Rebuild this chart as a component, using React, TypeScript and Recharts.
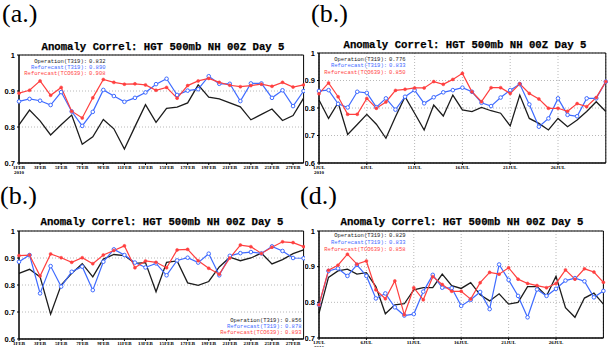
import { LineChart, Line, XAxis, YAxis, CartesianGrid, ReferenceArea } from 'recharts';

const febDates = ['1FEB', '2FEB', '3FEB', '4FEB', '5FEB', '6FEB', '7FEB', '8FEB', '9FEB', '10FEB', '11FEB', '12FEB', '13FEB', '14FEB',
  '15FEB', '16FEB', '17FEB', '18FEB', '19FEB', '20FEB', '21FEB', '22FEB', '23FEB', '24FEB', '25FEB', '26FEB', '27FEB', '28FEB'];
const julDates = ['1JUL', '2JUL', '3JUL', '4JUL', '5JUL', '6JUL', '7JUL', '8JUL', '9JUL', '10JUL', '11JUL', '12JUL', '13JUL', '14JUL',
  '15JUL', '16JUL', '17JUL', '18JUL', '19JUL', '20JUL', '21JUL', '22JUL', '23JUL', '24JUL', '25JUL', '26JUL', '27JUL', '28JUL',
  '29JUL', '30JUL', '31JUL'];

const febTicks = ['1FEB', '3FEB', '5FEB', '7FEB', '9FEB', '11FEB', '13FEB', '15FEB', '17FEB', '19FEB', '21FEB', '23FEB', '25FEB', '27FEB'];
const julTicks = ['1JUL', '6JUL', '11JUL', '16JUL', '21JUL', '26JUL'];
const yTicksShort = [0.7, 0.8, 0.9, 1];
const yTicksLong = [0.6, 0.7, 0.8, 0.9, 1];

// (a.) Feb, top left
const aOp = [0.806, 0.847, 0.817, 0.778, 0.806, 0.833, 0.752, 0.773, 0.821, 0.795, 0.739, 0.801, 0.862, 0.813,
  0.852, 0.855, 0.867, 0.917, 0.883, 0.878, 0.867, 0.856, 0.820, 0.835, 0.850, 0.818, 0.832, 0.880];
const aRt = [0.871, 0.878, 0.873, 0.861, 0.897, 0.843, 0.803, 0.842, 0.903, 0.886, 0.870, 0.881, 0.896, 0.919,
  0.934, 0.889, 0.901, 0.905, 0.941, 0.920, 0.920, 0.872, 0.921, 0.921, 0.881, 0.902, 0.858, 0.900];
const aRc = [0.894, 0.902, 0.928, 0.888, 0.910, 0.844, 0.825, 0.881, 0.932, 0.924, 0.919, 0.920, 0.917, 0.902,
  0.910, 0.880, 0.915, 0.928, 0.935, 0.924, 0.916, 0.912, 0.915, 0.919, 0.913, 0.924, 0.911, 0.917];

// (b.) Jul, top right
const bOp = [0.829, 0.762, 0.819, 0.704, 0.740, 0.777, 0.741, 0.690, 0.768, 0.841, 0.781, 0.720, 0.811, 0.771, 0.847,
  0.793, 0.787, 0.802, 0.790, 0.781, 0.735, 0.847, 0.762, 0.744, 0.720, 0.762, 0.732, 0.756, 0.787, 0.823, 0.787];
const bRt = [0.862, 0.865, 0.815, 0.802, 0.859, 0.855, 0.803, 0.835, 0.794, 0.841, 0.865, 0.817, 0.839, 0.857, 0.865,
  0.874, 0.859, 0.819, 0.807, 0.838, 0.865, 0.887, 0.813, 0.732, 0.762, 0.835, 0.775, 0.770, 0.835, 0.835, 0.896];
const bRc = [0.852, 0.891, 0.841, 0.777, 0.777, 0.835, 0.799, 0.822, 0.864, 0.868, 0.873, 0.873, 0.896, 0.886, 0.904,
  0.926, 0.859, 0.823, 0.874, 0.874, 0.853, 0.888, 0.853, 0.833, 0.799, 0.799, 0.788, 0.816, 0.805, 0.838, 0.896];

// (b.) Feb, bottom left
const cOp = [0.843, 0.858, 0.830, 0.692, 0.800, 0.843, 0.879, 0.830, 0.896, 0.913, 0.909, 0.880, 0.883, 0.775,
  0.884, 0.889, 0.808, 0.799, 0.813, 0.867, 0.903, 0.890, 0.900, 0.918, 0.878, 0.894, 0.916, 0.930];
const cRt = [0.886, 0.911, 0.769, 0.870, 0.794, 0.849, 0.868, 0.781, 0.886, 0.932, 0.911, 0.883, 0.865, 0.880,
  0.836, 0.891, 0.901, 0.883, 0.916, 0.836, 0.908, 0.918, 0.922, 0.917, 0.943, 0.926, 0.900, 0.899];
const cRc = [0.909, 0.911, 0.833, 0.915, 0.901, 0.884, 0.901, 0.879, 0.911, 0.928, 0.945, 0.864, 0.889, 0.884,
  0.864, 0.930, 0.932, 0.890, 0.862, 0.840, 0.900, 0.948, 0.942, 0.917, 0.940, 0.960, 0.957, 0.942];

// (d.) Jul, bottom right
const dOp = [0.769, 0.870, 0.888, 0.893, 0.879, 0.883, 0.844, 0.768, 0.793, 0.796, 0.835, 0.841, 0.841, 0.879, 0.847,
  0.839, 0.855, 0.821, 0.804, 0.824, 0.795, 0.800, 0.844, 0.844, 0.818, 0.873, 0.785, 0.758, 0.812, 0.826, 0.795];
const dRt = [0.793, 0.888, 0.895, 0.874, 0.905, 0.874, 0.811, 0.825, 0.786, 0.763, 0.767, 0.830, 0.877, 0.841, 0.840,
  0.790, 0.807, 0.829, 0.781, 0.906, 0.863, 0.818, 0.758, 0.836, 0.818, 0.838, 0.861, 0.868, 0.859, 0.814, 0.832];
const dRc = [0.793, 0.890, 0.904, 0.935, 0.907, 0.916, 0.835, 0.810, 0.860, 0.765, 0.841, 0.807, 0.872, 0.850, 0.831,
  0.831, 0.809, 0.855, 0.884, 0.879, 0.897, 0.865, 0.853, 0.847, 0.841, 0.853, 0.891, 0.865, 0.894, 0.885, 0.856];

const seriesNames = ['Operation(T319):', 'Reforecast(T319):', 'Reforecast(TCO639):'];
const aScores = ['0.832', '0.890', '0.908'];
const bScores = ['0.776', '0.833', '0.850'];
const cScores = ['0.856', '0.878', '0.893'];
const dScores = ['0.829', '0.833', '0.858'];

const TITLE = 'Anomaly Correl: HGT 500mb NH 00Z Day 5';
const BLACK = '#1c1c1c';
const BLUE = '#3f6bff';
const RED = '#ff3f3f';
const colors = [BLACK, BLUE, RED];
const MONO = '"Liberation Mono", "DejaVu Sans Mono", monospace';

const XTick = ({ x, y, payload, dates }: any) => (
  <text x={x} y={y + 3} textAnchor="middle" fontSize={5} fontWeight="bold" fontFamily="Liberation Serif" fill="#000">
    {dates[payload.value]}
    {payload.value === 0 && <tspan x={x} dy={4.5}>2010</tspan>}
  </text>
);

interface PanelProps {
  left: number; top: number; width: number; height: number; chartWidth: number;
  plotLeft: number; plotTop: number; plotBottom: number; plotRight: number;
  dates: string[]; ticks: string[]; yMin: number; yTicks: number[]; vgrid: boolean;
  op: number[]; rt: number[]; rc: number[];
  titleX: number; titleY: number;
  scores: string[]; colonX: number; legendY: number[];
}

function Panel(p: PanelProps) {
  const data = p.dates.map((d, i) => ({ i, date: d, op: p.op[i], rt: p.rt[i], rc: p.rc[i] }));
  const tickIdx = p.ticks.map((t) => p.dates.indexOf(t));
  const last = p.dates.length - 1;
  return (
    <div style={{ position: 'absolute', left: p.left, top: p.top, width: p.width, height: p.height, overflow: 'hidden', background: '#fff' }}>
      <LineChart
        width={p.chartWidth}
        height={p.height}
        data={data}
        margin={{ top: p.plotTop, right: p.chartWidth - p.plotRight, left: 0, bottom: 0 }}
      >
        <CartesianGrid stroke="#b8b8b8" strokeDasharray="1 2" vertical={p.vgrid} />
        <ReferenceArea x1={0} x2={last} y1={p.yMin} y2={1} fill="none" stroke="#000" strokeWidth={1} />
        <XAxis
          dataKey="i"
          type="number"
          domain={[0, last]}
          ticks={tickIdx}
          interval={0}
          height={p.height - p.plotBottom}
          stroke="#000"
          tickSize={2}
          tickMargin={1}
          tick={(props: any) => <XTick {...props} dates={p.dates} />}
        />
        <YAxis
          type="number"
          domain={[p.yMin, 1]}
          ticks={p.yTicks}
          width={p.plotLeft}
          stroke="#000"
          tickSize={2}
          tickMargin={2}
          tick={{ fontSize: 7.5, fontWeight: 700, fill: '#000', fontFamily: 'Liberation Sans' }}
          tickFormatter={(v: number) => (v === 1 ? '1' : v.toFixed(1))}
        />
        <Line type="linear" dataKey="op" stroke={BLACK} strokeWidth={1.3} dot={false} isAnimationActive={false} />
        <Line
          type="linear"
          dataKey="rt"
          stroke={BLUE}
          strokeWidth={1.2}
          dot={{ r: 1.8, fill: '#fff', stroke: BLUE, strokeWidth: 1 }}
          isAnimationActive={false}
        />
        <Line
          type="linear"
          dataKey="rc"
          stroke={RED}
          strokeWidth={1.2}
          dot={{ r: 1.5, fill: RED, stroke: RED, strokeWidth: 0.5 }}
          isAnimationActive={false}
        />
      </LineChart>
      <svg width={p.width} height={p.height} style={{ position: 'absolute', left: 0, top: 0, pointerEvents: 'none' }}>
        <text
          x={p.titleX}
          y={p.titleY}
          textAnchor="middle"
          fontFamily={MONO}
          fontWeight="bold"
          fontSize={11.5}
          textLength={243}
          lengthAdjust="spacingAndGlyphs"
          fill="#000"
          stroke="#000"
          strokeWidth={0.25}
        >
          {TITLE}
        </text>
        {seriesNames.map((name, k) => (
          <g key={name} fontFamily={MONO} fontSize={5.5} fill={colors[k]}>
            <text x={p.colonX} y={p.legendY[k]} textAnchor="end">{name}</text>
            <text x={p.colonX + 2} y={p.legendY[k]}>{p.scores[k]}</text>
          </g>
        ))}
      </svg>
    </div>
  );
}

export default function App() {
  return (
    <div style={{ position: 'absolute', left: 0, top: 0, width: 608, height: 347, background: '#fff', overflow: 'hidden' }}>
      <Panel
        left={0} top={30} width={305} height={150} chartWidth={310}
        plotLeft={19} plotTop={25} plotBottom={133} plotRight={303.6}
        dates={febDates} ticks={febTicks} yMin={0.7} yTicks={yTicksShort} vgrid={false}
        op={aOp} rt={aRt} rc={aRc}
        titleX={163} titleY={20}
        scores={aScores} colonX={87} legendY={[32.5, 38.5, 44.5]}
      />
      <Panel
        left={305} top={30} width={303} height={150} chartWidth={303}
        plotLeft={14} plotTop={23} plotBottom={133} plotRight={300.8}
        dates={julDates} ticks={julTicks} yMin={0.6} yTicks={yTicksLong} vgrid={true}
        op={bOp} rt={bRt} rc={bRc}
        titleX={160} titleY={18.3}
        scores={bScores} colonX={82} legendY={[31, 37, 43.5]}
      />
      <Panel
        left={0} top={190} width={305} height={157} chartWidth={310}
        plotLeft={19} plotTop={41} plotBottom={149} plotRight={303.6}
        dates={febDates} ticks={febTicks} yMin={0.6} yTicks={yTicksLong} vgrid={false}
        op={cOp} rt={cRt} rc={cRc}
        titleX={162} titleY={35}
        scores={cScores} colonX={283} legendY={[131.5, 137.5, 144]}
      />
      <Panel
        left={305} top={190} width={303} height={157} chartWidth={303}
        plotLeft={14} plotTop={41} plotBottom={148} plotRight={298.4}
        dates={julDates} ticks={julTicks} yMin={0.7} yTicks={yTicksShort} vgrid={true}
        op={dOp} rt={dRt} rc={dRc}
        titleX={157} titleY={35}
        scores={dScores} colonX={82} legendY={[46.5, 54, 60.5]}
      />
      <svg width={608} height={347} style={{ position: 'absolute', left: 0, top: 0, pointerEvents: 'none' }}>
        <g fontFamily="Liberation Serif" fontSize={26} fill="#000">
          <text x={2} y={22}>(a.)</text>
          <text x={311} y={22}>(b.)</text>
          <text x={0} y={204}>(b.)</text>
          <text x={300} y={204}>(d.)</text>
        </g>
      </svg>
    </div>
  );
}
